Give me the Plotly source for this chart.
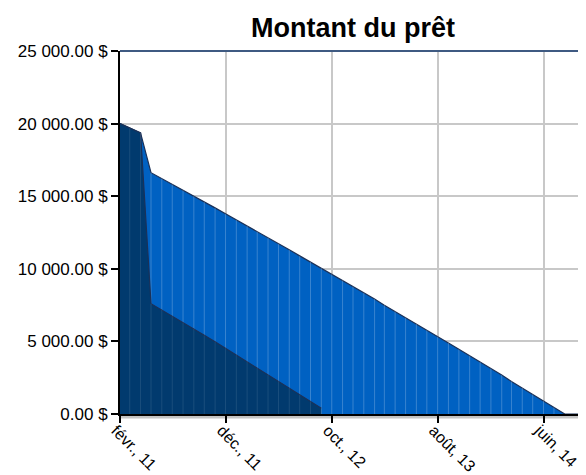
import plotly.graph_objects as go

# Monthly dates (Feb 2011 onward)
months = ["2011-02-01", "2011-03-01", "2011-04-01", "2011-05-01", "2011-06-01", "2011-07-01",
          "2011-08-01", "2011-09-01", "2011-10-01", "2011-11-01", "2011-12-01", "2012-01-01",
          "2012-02-01", "2012-03-01", "2012-04-01", "2012-05-01", "2012-06-01", "2012-07-01",
          "2012-08-01", "2012-09-01", "2012-10-01", "2012-11-01", "2012-12-01", "2013-01-01",
          "2013-02-01", "2013-03-01", "2013-04-01", "2013-05-01", "2013-06-01", "2013-07-01",
          "2013-08-01", "2013-09-01", "2013-10-01", "2013-11-01", "2013-12-01", "2014-01-01",
          "2014-02-01", "2014-03-01", "2014-04-01", "2014-05-01", "2014-06-01", "2014-07-01",
          "2014-08-01", "2014-09-01", "2014-10-01"]

# Light series (longer loan balance)
balance_a = [20000, 19680, 19360, 16620, 16219, 15817, 15414, 15009, 14603, 14196,
             13787, 13377, 12966, 12553, 12139, 11724, 11307, 10889, 10469, 10048,
             9626, 9203, 8778, 8352, 7924, 7496, 7066, 6634, 6201, 5767,
             5332, 4895, 4456, 4017, 3576, 3134, 2690, 2245, 1799, 1352,
             903, 453, 0, 0, 0]

# Dark series (accelerated repayment)
balance_b = [20000, 19680, 19360, 7600, 7169, 6735, 6299, 5860, 5419, 4975,
             4529, 4080, 3629, 3175, 2719, 2260, 1799, 1335, 869, 400]

tick_vals = ["2011-02-01", "2011-12-01", "2012-10-01", "2013-08-01", "2014-06-01"]
tick_text = ["févr., 11", "déc., 11", "oct., 12", "août, 13", "juin, 14"]
y_ticks = [0, 5000, 10000, 15000, 20000, 25000]
y_text = ["0.00 $", "5 000.00 $", "10 000.00 $", "15 000.00 $", "20 000.00 $", "25 000.00 $"]

LIGHT = "#0061c2"
DARK = "#013a6e"
EDGE = "#1b3158"

fig = go.Figure()

fig.add_trace(go.Scatter(x=months, y=balance_a, mode="lines", fill="tozeroy",
                         fillcolor=LIGHT, line=dict(color=EDGE, width=1.2),
                         hoverinfo="skip", showlegend=False))

# monthly vertical lines inside the light area
vx, vy = [], []
for d, v in zip(months[1:], balance_a[1:]):
    if v > 0:
        vx += [d, d, None]
        vy += [0, v, None]
fig.add_trace(go.Scatter(x=vx, y=vy, mode="lines",
                         line=dict(color="rgba(255,255,255,0.22)", width=1),
                         hoverinfo="skip", showlegend=False))

fig.add_trace(go.Scatter(x=months[:len(balance_b)], y=balance_b, mode="lines", fill="tozeroy",
                         fillcolor=DARK, line=dict(color=EDGE, width=1.2),
                         hoverinfo="skip", showlegend=False))

wx, wy = [], []
for d, v in zip(months[1:len(balance_b)], balance_b[1:]):
    wx += [d, d, None]
    wy += [0, v, None]
fig.add_trace(go.Scatter(x=wx, y=wy, mode="lines",
                         line=dict(color="rgba(255,255,255,0.10)", width=1),
                         hoverinfo="skip", showlegend=False))

# page body has an 8px margin, so the figure is sized/positioned to compensate
fig.update_layout(
    width=578, height=467,
    margin=dict(l=112, r=0, t=43, b=61, autoexpand=False),
    paper_bgcolor="white", plot_bgcolor="white",
    font=dict(family="Liberation Sans, Arial, sans-serif", size=16, color="black"),
    title=dict(text="<b>Montant du prêt</b>", x=0.5, xref="paper", xanchor="center",
               y=1 - 20 / 467, yref="container", yanchor="middle",
               font=dict(size=27, color="black")),
    xaxis=dict(type="date", range=["2011-02-01", "2014-10-01"],
               tickvals=tick_vals, ticktext=tick_text, tickangle=45,
               showgrid=True, gridcolor="#c8c8c8", gridwidth=2,
               showline=True, linecolor="black", linewidth=2,
               ticks="outside", ticklen=7, tickcolor="black", tickwidth=2,
               zeroline=False, layer="above traces", tickfont=dict(size=16),
               ticklabelstandoff=-8, ticklabelshift=-4,
               automargin=False),
    yaxis=dict(range=[0, 25000], tickvals=y_ticks, ticktext=y_text,
               showgrid=True, gridcolor="#c8c8c8", gridwidth=2,
               showline=True, linecolor="black", linewidth=2,
               ticks="outside", ticklen=7, tickcolor="black", tickwidth=2,
               zeroline=False, tickfont=dict(size=17), automargin=False),
    shapes=[
        dict(type="line", xref="paper", yref="paper", x0=0, x1=1, y0=1, y1=1,
             line=dict(color="#3f5a82", width=2)),
        dict(type="line", xref="paper", yref="paper", x0=0, x1=1, y0=-0.008, y1=-0.008,
             line=dict(color="#c4c4c4", width=3), layer="below"),
    ],
)

fig.write_html("out.html")
